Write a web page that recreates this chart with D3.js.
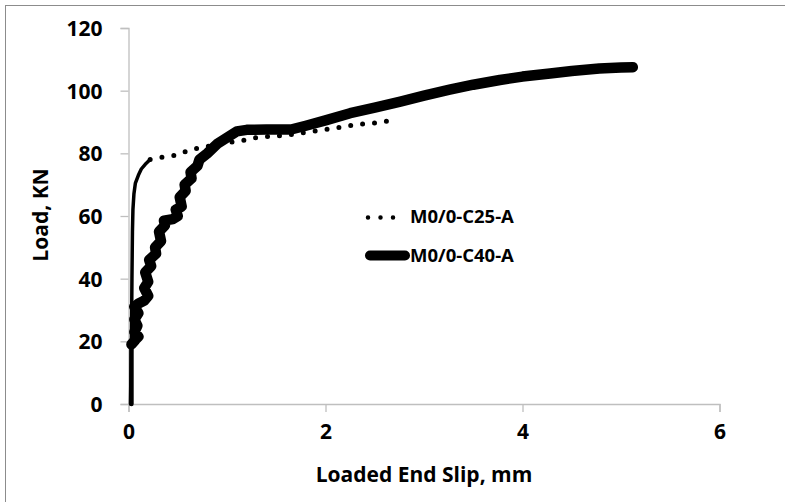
<!DOCTYPE html>
<html>
<head>
<meta charset="utf-8">
<script src="https://cdn.jsdelivr.net/npm/d3@7"></script>
<style>
  body { margin: 0; background: #fff; }
  text { font-family: "Open Sans", "Noto Sans", sans-serif; font-weight: bold; fill: #000; }
</style>
</head>
<body>
<script>
// series: M0/0-C25-A (dotted)
const c25Slip = [0.02, 0.03, 0.035, 0.04, 0.045, 0.055, 0.07, 0.1, 0.13, 0.17, 0.22,
  0.29, 0.39, 0.49, 0.63, 0.76, 0.9, 1.05, 1.19, 1.32, 1.5, 1.65, 1.83, 1.95, 2.1, 2.22, 2.32, 2.44, 2.54, 2.66];
const c25Load = [0, 20, 40, 55, 62, 67, 70.5, 73, 75, 76.5, 78,
  78.5, 79, 79.4, 81.2, 82, 82.8, 83.6, 84.3, 85.2, 85.5, 86, 86.8, 87.4, 88, 88.7, 89.3, 89.4, 89.9, 90.4];
const c25SolidUntil = 10; // steep part looks solid, dense points

// series: M0/0-C40-A (thick, noisy readings at low load)
const c40Slip = [0.03, 0.03, 0.07, 0.1, 0.06, 0.09, 0.06, 0.1, 0.06, 0.1, 0.16, 0.2, 0.16, 0.2, 0.17, 0.23,
  0.21, 0.28, 0.27, 0.33, 0.31, 0.37, 0.36, 0.45, 0.5, 0.48, 0.54, 0.52, 0.58, 0.57, 0.64, 0.63, 0.7, 0.72,
  0.8, 0.85, 0.9, 1.0, 1.1, 1.2, 1.4, 1.65, 1.8, 2.0, 2.25, 2.5,
  2.76, 3.0, 3.26, 3.5, 3.77, 4.0, 4.28, 4.5, 4.78, 5.0, 5.12];
const c40Load = [0, 19, 20.5, 21.5, 23, 25, 27, 29, 31, 32, 33, 34.5, 37, 39, 42, 44,
  46, 48, 50, 52, 55, 57, 58.5, 59, 60, 62, 63, 66, 68, 70, 72, 74, 76, 78,
  80, 81.5, 83, 85, 87, 87.5, 87.6, 87.6, 88.8, 90.5, 92.8, 94.6,
  96.5, 98.4, 100.3, 101.9, 103.4, 104.5, 105.5, 106.3, 107.1, 107.4, 107.5];
const c40ThinUntil = 1;

const xTicks = [0, 2, 4, 6];
const yTicks = [0, 20, 40, 60, 80, 100, 120];
const legendNames = ["M0/0-C25-A", "M0/0-C40-A"];

const width = 785, height = 502;
const svg = d3.select("body").append("svg")
  .attr("width", width)
  .attr("height", height);

// outer chart border
svg.append("rect")
  .attr("x", 5.5).attr("y", 5.5)
  .attr("width", 820).attr("height", 620)
  .attr("fill", "none")
  .attr("stroke", "#8c8c8c");

const x = d3.scaleLinear().domain([0, 6]).range([128.5, 719.5]);
const y = d3.scaleLinear().domain([0, 120]).range([404, 28]);

// axes
const xAxis = svg.append("g")
  .attr("transform", "translate(0,404)")
  .call(d3.axisBottom(x).tickValues(xTicks).tickSize(8).tickPadding(12).tickFormat(d3.format("d")));
const yAxis = svg.append("g")
  .attr("transform", "translate(128.5,0)")
  .call(d3.axisLeft(y).tickValues(yTicks).tickSize(8).tickPadding(18).tickFormat(d3.format("d")));

[xAxis, yAxis].forEach(a => {
  a.attr("font-family", null).attr("font-size", null);
  a.select(".domain").attr("stroke", "#bfbfbf").attr("stroke-width", 1.3);
  a.selectAll(".tick line").attr("stroke", "#bfbfbf").attr("stroke-width", 1.3);
  a.selectAll(".tick text").style("font-size", "21px").attr("fill", "#000");
});
yAxis.selectAll(".tick text").attr("dy", "0.36em");

// axis titles
svg.append("text")
  .attr("x", 424).attr("y", 482)
  .attr("text-anchor", "middle")
  .style("font-size", "21px")
  .text("Loaded End Slip, mm");
svg.append("text")
  .attr("transform", "translate(48,215) rotate(-90)")
  .attr("text-anchor", "middle")
  .style("font-size", "21px")
  .text("Load, KN");

const line = d3.line().x(d => x(d[0])).y(d => y(d[1]));
const c25 = c25Slip.map((s, i) => [s, c25Load[i]]);
const c40 = c40Slip.map((s, i) => [s, c40Load[i]]);

// C40: thin start then thick band
svg.append("path")
  .datum(c40.slice(0, c40ThinUntil + 1))
  .attr("d", line)
  .attr("fill", "none").attr("stroke", "#000")
  .attr("stroke-width", 4.5).attr("stroke-linecap", "round");
svg.append("path")
  .datum(c40.slice(c40ThinUntil))
  .attr("d", line)
  .attr("fill", "none").attr("stroke", "#000")
  .attr("stroke-width", 10.5)
  .attr("stroke-linecap", "round").attr("stroke-linejoin", "round");

// C25: solid steep part then round dots
svg.append("path")
  .datum(c25.slice(0, c25SolidUntil + 1))
  .attr("d", line)
  .attr("fill", "none").attr("stroke", "#000")
  .attr("stroke-width", 3.5).attr("stroke-linecap", "round").attr("stroke-linejoin", "round");
svg.append("path")
  .datum(c25.slice(c25SolidUntil))
  .attr("d", line)
  .attr("fill", "none").attr("stroke", "#000")
  .attr("stroke-width", 5)
  .attr("stroke-linecap", "round")
  .attr("stroke-dasharray", "0,12");

// legend
const legend = svg.append("g");
legend.append("line")
  .attr("x1", 368).attr("x2", 396).attr("y1", 217.5).attr("y2", 217.5)
  .attr("stroke", "#000").attr("stroke-width", 4.5)
  .attr("stroke-linecap", "round").attr("stroke-dasharray", "0,12.5");
legend.append("line")
  .attr("x1", 370).attr("x2", 405).attr("y1", 255.5).attr("y2", 255.5)
  .attr("stroke", "#000").attr("stroke-width", 10)
  .attr("stroke-linecap", "round");
legend.selectAll("text.lg")
  .data(legendNames)
  .join("text")
  .attr("class", "lg")
  .attr("x", 410)
  .attr("y", (d, i) => 223 + i * 39)
  .style("font-size", "18.5px")
  .text(d => d);
</script>
</body>
</html>
